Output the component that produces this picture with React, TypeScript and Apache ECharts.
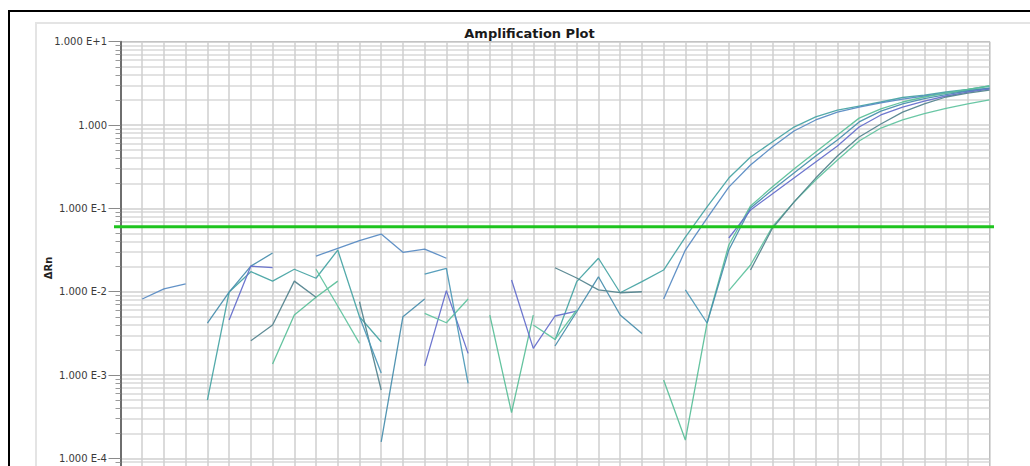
import React, { useEffect, useRef } from "react";
import * as echarts from "echarts";

// Cycle numbers (x axis)
const cycles = [
  1, 2, 3, 4, 5, 6, 7, 8, 9, 10, 11, 12, 13, 14, 15, 16, 17, 18, 19, 20,
  21, 22, 23, 24, 25, 26, 27, 28, 29, 30, 31, 32, 33, 34, 35, 36, 37, 38, 39, 40,
];

// ΔRn per well, cycles 1..40 (null = not plotted on log scale)
const well1 = [
  null, null, null, 5.01e-4, 0.0099, 0.0174, 0.0134, 0.0186, 0.0145, 0.0316,
  0.00501, 0.00251, null, null, null, null, null, null, null, 0.00263,
  0.0132, 0.0252, 0.00972, 0.0132, 0.0182, 0.0453, 0.104, 0.231, 0.413, 0.625,
  0.946, 1.25, 1.51, 1.69, 1.89, 2.14, 2.29, 2.49, 2.67, 2.94,
];
const well2 = [
  0.00817, 0.0108, 0.0124, null, null, null, null, null, 0.0268, 0.0331,
  0.0409, 0.0492, 0.0297, 0.0325, 0.0252, null, null, null, null, null,
  null, null, null, null, 0.00817, 0.0316, 0.0766, 0.18, 0.331, 0.545,
  0.847, 1.15, 1.43, 1.64, 1.84, 2.05, 2.23, 2.42, 2.59, 2.78,
];
const well3 = [
  null, null, null, null, null, null, 0.00136, 0.00525, 0.00856, 0.0134,
  null, null, null, null, null, null, 0.00525, 3.53e-4, 0.00525, null,
  null, null, null, null, 8.71e-4, 1.66e-4, 0.00421, 0.0363, 0.107, 0.18,
  0.296, 0.474, 0.759, 1.21, 1.56, 1.89, 2.17, 2.42, 2.67, 2.94,
];
const well4 = [
  null, null, null, 0.00421, 0.0099, 0.0203, 0.0291, null, null, null,
  null, 1.58e-4, 0.00501, 0.00817, null, null, null, null, null, 0.00223,
  0.00575, 0.0151, 0.00525, 0.00316, null, null, 0.00421, 0.0316, 0.101, 0.166,
  0.265, 0.425, 0.661, 1.09, 1.47, 1.79, 2.08, 2.32, 2.56, 2.78,
];
const well5 = [
  null, null, null, null, 0.00457, 0.0203, 0.0194, null, null, null,
  null, null, null, 0.00129, 0.0103, 0.00182, null, 0.0138, 0.00209, 0.00511,
  0.00586, null, null, null, null, null, null, 0.0441, 0.0955, 0.149,
  0.231, 0.36, 0.56, 0.946, 1.32, 1.64, 1.94, 2.23, 2.49, 2.7,
];
const well6 = [
  null, null, null, null, null, null, null, null, 0.0186, 0.00673,
  0.0024, null, null, 0.0055, 0.00424, 0.00817, null, null, 0.00398, 0.00268,
  0.00603, null, null, null, null, null, null, 0.0103, 0.0209, 0.0597,
  0.119, 0.219, 0.38, 0.643, 0.92, 1.15, 1.37, 1.58, 1.79, 2.0,
];
const well7 = [
  null, null, null, null, null, 0.00258, 0.00398, 0.0134, 0.00856, null,
  0.00758, 6.61e-4, null, null, null, null, null, null, null, 0.0194,
  0.0146, 0.0105, 0.00972, 0.00999, null, null, null, null, 0.0182, 0.0573,
  0.119, 0.231, 0.425, 0.718, 1.03, 1.43, 1.79, 2.17, 2.42, 2.63,
];
const well8 = [
  null, null, null, null, null, null, null, null, null, null,
  0.00501, 0.00106, null, 0.0162, 0.0191, 7.95e-4, null, null, null, null,
  null, null, null, null, null, 0.0105, 0.00421, null, null, null,
  null, null, null, null, null, null, null, null, null, null,
];

const wells = [well1, well2, well3, well4, well5, well6, well7, well8];
const wellColors = [
  "#4aa5a5", "#5a8cc4", "#5cc09a", "#4a8fae",
  "#6670cc", "#62c4a0", "#55858f", "#4f9ab8",
];

const threshold = 0.06;

// Log axis range and minor grid multipliers
const yMin = 1e-5;
const yMax = 10;
const decades = [-5, -4, -3, -2, -1, 0];
const minorMultipliers = [2, 3, 4, 5, 6, 7, 8, 9];

const title = "Amplification Plot";
const yName = "ΔRn";

function formatDecade(v: number): string {
  const e = Math.round(Math.log10(v));
  if (e === 0) return "1.000";
  return "1.000 E" + (e > 0 ? "+" : "") + e;
}

export default function App() {
  const ref = useRef<HTMLDivElement>(null);

  useEffect(() => {
    if (!ref.current) return;
    const chart = echarts.init(ref.current, undefined, { renderer: "svg" });

    const minorValues: number[] = [];
    decades.forEach((d) => {
      minorMultipliers.forEach((m) => {
        minorValues.push(Number((m * Math.pow(10, d)).toPrecision(6)));
      });
    });

    const wellSeries = wells.map((vals, i) => ({
      type: "line",
      name: "Well " + (i + 1),
      xAxisIndex: 0,
      yAxisIndex: 0,
      data: cycles.map((c, j) => [c, vals[j]]),
      symbol: "none",
      connectNulls: false,
      silent: true,
      lineStyle: { width: 1.3, color: wellColors[i], opacity: 0.95 },
      itemStyle: { color: wellColors[i] },
      z: 3,
    }));

    const option: any = {
      animation: false,
      backgroundColor: "#ffffff",
      graphic: [
        {
          type: "rect",
          shape: { x: 9, y: 11, width: 1100, height: 700 },
          style: { fill: "none", stroke: "#000000", lineWidth: 2 },
          silent: true,
        },
        {
          type: "rect",
          shape: { x: 36, y: 23, width: 1100, height: 700 },
          style: { fill: "none", stroke: "#e4e4e4", lineWidth: 2 },
          silent: true,
        },
        {
          type: "text",
          x: 529.5,
          y: 33,
          style: {
            text: title,
            font: "bold 13px 'DejaVu Sans'",
            fill: "#1a1a1a",
            align: "center",
            verticalAlign: "middle",
          },
          silent: true,
        },
        {
          type: "text",
          x: 48,
          y: 268,
          rotation: Math.PI / 2,
          style: {
            text: yName,
            font: "bold 10px 'DejaVu Sans'",
            fill: "#222222",
            align: "center",
            verticalAlign: "middle",
          },
          silent: true,
        },
      ],
      grid: [
        {
          left: 120.5,
          top: 41.7,
          width: 869,
          height: 500,
          show: true,
          borderColor: "#8c8c8c",
          borderWidth: 1,
          backgroundColor: "transparent",
        },
        { left: 114, top: 41.7, width: 880, height: 500 },
      ],
      xAxis: [
        {
          type: "value",
          gridIndex: 0,
          min: 0,
          max: 40,
          interval: 1,
          axisLine: { show: false },
          axisTick: { show: false },
          axisLabel: { show: false },
          splitLine: { show: true, lineStyle: { color: "#cfcfcf", width: 1.5 } },
        },
        { type: "value", gridIndex: 1, min: 0, max: 1, show: false },
      ],
      yAxis: [
        {
          type: "log",
          logBase: 10,
          gridIndex: 0,
          min: yMin,
          max: yMax,
          interval: 1,
          axisLine: { show: true, lineStyle: { color: "#6e6e6e", width: 2 } },
          axisTick: { show: true, length: 12, lineStyle: { color: "#8a8a8a" } },
          axisLabel: {
            margin: 13.5,
            fontSize: 10,
            lineHeight: 11,
            fontFamily: "DejaVu Sans",
            color: "#3a3a3a",
            showMinLabel: false,
            formatter: formatDecade,
          },
          splitLine: { show: true, lineStyle: { color: "#cfcfcf", width: 1.5 } },
        },
        {
          type: "log",
          logBase: 10,
          gridIndex: 0,
          min: yMin,
          max: yMax,
          position: "left",
          axisLine: { show: false },
          axisTick: {
            show: true,
            length: 5,
            customValues: minorValues,
            lineStyle: { color: "#9a9a9a" },
          },
          axisLabel: { show: false },
          splitLine: { show: true, lineStyle: { color: "#d8d8d8", width: 1.5 } },
        },
        { type: "log", logBase: 10, gridIndex: 1, min: yMin, max: yMax, show: false },
      ],
      series: [
        ...wellSeries,
        {
          type: "line",
          name: "Threshold",
          xAxisIndex: 1,
          yAxisIndex: 2,
          data: [
            [0, threshold],
            [1, threshold],
          ],
          symbol: "none",
          silent: true,
          lineStyle: { width: 3, color: "#1fc41f" },
          itemStyle: { color: "#1fc41f" },
          z: 6,
        },
      ],
    };

    chart.setOption(option);
    return () => {
      chart.dispose();
    };
  }, []);

  return (
    <div
      style={{
        position: "fixed",
        left: 0,
        top: 0,
        width: 1030,
        height: 466,
        overflow: "hidden",
        background: "#ffffff",
      }}
    >
      <div ref={ref} style={{ width: 1030, height: 600 }} />
    </div>
  );
}
